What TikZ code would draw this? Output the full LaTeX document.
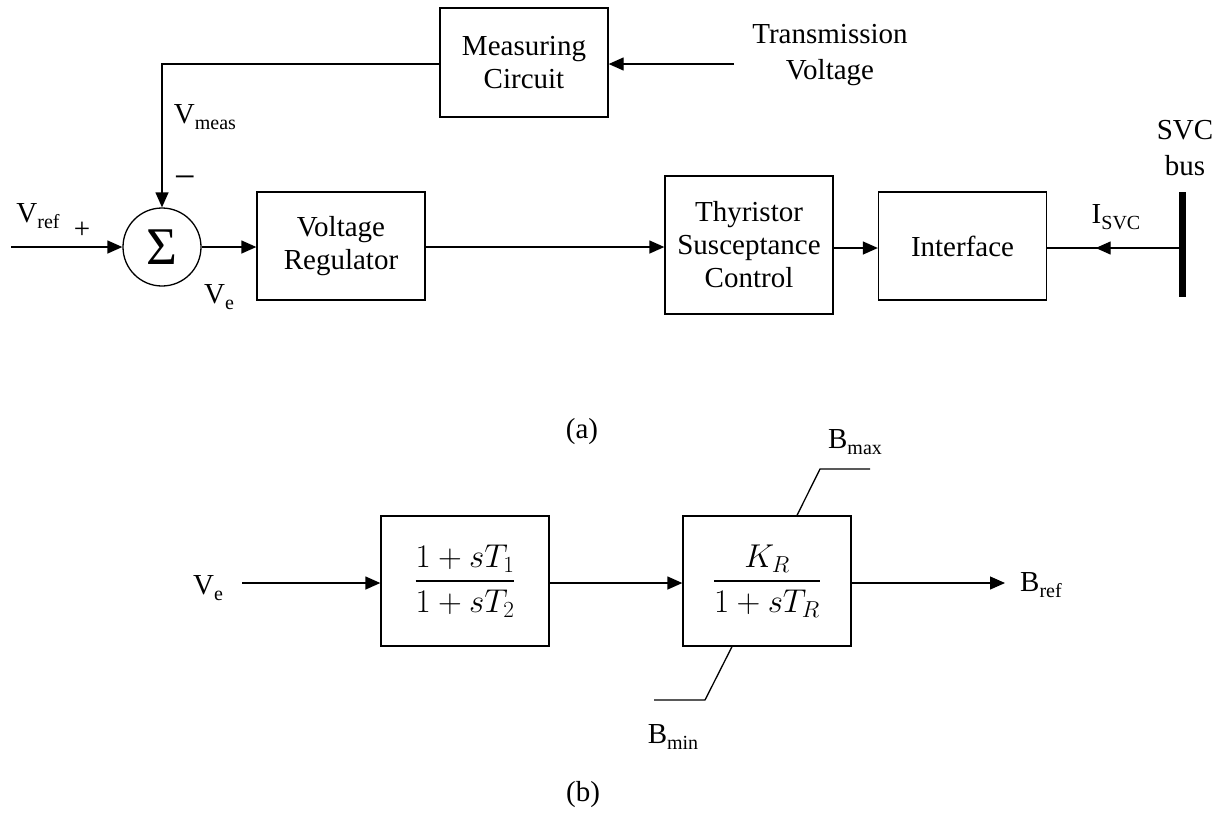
\RequirePackage{fix-cm}
\documentclass[tikz,border=0pt]{standalone}
\usepackage{amsmath}
\usepackage{fontspec}
\setmainfont{Liberation Serif}
\usetikzlibrary{arrows.meta,decorations.markings}
\newcommand\sbs[1]{\raisebox{-0.22em}{\fontsize{20}{20}\selectfont #1}}
\tikzset{
  blk/.style={draw, line width=1.3pt, minimum width=168pt, inner sep=0pt, align=center, font=\fontsize{29}{33}\selectfont},
  lbl/.style={inner sep=0pt, align=center, font=\fontsize{29}{33}\selectfont},
  conn/.style={line width=1.3pt, -{Triangle[length=15pt,width=13pt]}},
  plain/.style={line width=1.3pt},
}
\begin{document}
\begin{tikzpicture}[x=1pt,y=-1pt]
\useasboundingbox (0,0) rectangle (1223,823);
% part (a)
\node[draw, circle, line width=1.3pt, minimum size=78pt, inner sep=0pt] (sum) at (162,247) {\fontsize{53}{53}\selectfont Σ};
\node[blk, minimum height=108pt] (vr) at (341,246) {Voltage\\Regulator};
\node[blk, minimum height=109pt] (mc) at (524,62.5) {Measuring\\Circuit};
\node[blk, minimum height=138pt] (tsc) at (749,245) {Thyristor\\Susceptance\\Control};
\node[blk, minimum height=108pt] (intf) at (962.5,246) {Interface};
\node[draw, fill=black, minimum width=6pt, minimum height=104pt, inner sep=0pt] (bus) at (1182,244) {};
\coordinate (vin) at (11,247);
\coordinate (tv) at (734,64);
\coordinate (busmid) at (bus.center |- 0,248);

\draw[conn] (vin) -- (sum.west);
\draw[conn] (sum.east) -- (vr.west |- sum.east);
\draw[conn] (vr.east |- 0,247) -- (tsc.west |- 0,247);
\draw[conn] (tsc.east |- 0,248) -- (intf.west |- 0,248);
\draw[conn] (tv) -- (mc.east |- tv);
\draw[conn] (mc.west |- tv) -| (sum.north);
\draw[plain, postaction=decorate, decoration={markings, mark=at position 0.64 with {\arrow{Triangle[length=15pt,width=13pt]}}}] (busmid) -- (intf.east |- busmid);

\node[lbl] (vref) at (38,216) {V\sbs{ref}};
\node[lbl] (plus) at (82,230) {+};
\node[lbl] (minus) at (185,183) {\fontsize{38}{38}\selectfont −};
\node[lbl] (vmeas) at (205,117) {V\sbs{meas}};
\node[lbl] (ve) at (219,297) {V\sbs{e}};
\node[lbl, font=\fontsize{29}{36}\selectfont] (tvl) at (830,55) {Transmission\\Voltage};
\node[lbl, font=\fontsize{29}{36}\selectfont] (svc) at (1185,148) {SVC\\bus};
\node[lbl] (isvc) at (1116,217) {I\sbs{SVC}};
\node[lbl] (a) at (582,432) {(a)};

% part (b)
\node[blk, minimum height=130pt] (b1) at (465,581) {\fontsize{33}{36}\selectfont$\displaystyle\genfrac{}{}{2.5pt}{}{1+sT_1}{1+sT_2}$};
\node[blk, minimum height=130pt] (b2) at (767,581) {\fontsize{33}{36}\selectfont$\displaystyle\genfrac{}{}{2.5pt}{}{K_R}{1+sT_R}$};
\node[lbl] (veb) at (208,588) {V\sbs{e}};
\node[lbl] (bref) at (1041,585) {B\sbs{ref}};
\node[lbl] (bmax) at (855,442) {B\sbs{max}};
\node[lbl] (bmin) at (673,737) {B\sbs{min}};
\node[lbl] (b) at (583,795) {(b)};
\coordinate (vbin) at (242,583);
\coordinate (bout) at (1005,583);
\coordinate (mx1) at (820,469);
\coordinate (mx2) at (870,469);
\coordinate (mn1) at (705,700);
\coordinate (mn2) at (654,700);

\draw[conn] (vbin) -- (b1.west |- vbin);
\draw[conn] (b1.east |- vbin) -- (b2.west |- vbin);
\draw[conn] (b2.east |- vbin) -- (bout);
\draw[plain] (b2.north -| 797,0) -- (mx1) -- (mx2);
\draw[plain] (b2.south -| 732,0) -- (mn1) -- (mn2);
\end{tikzpicture}
\end{document}
